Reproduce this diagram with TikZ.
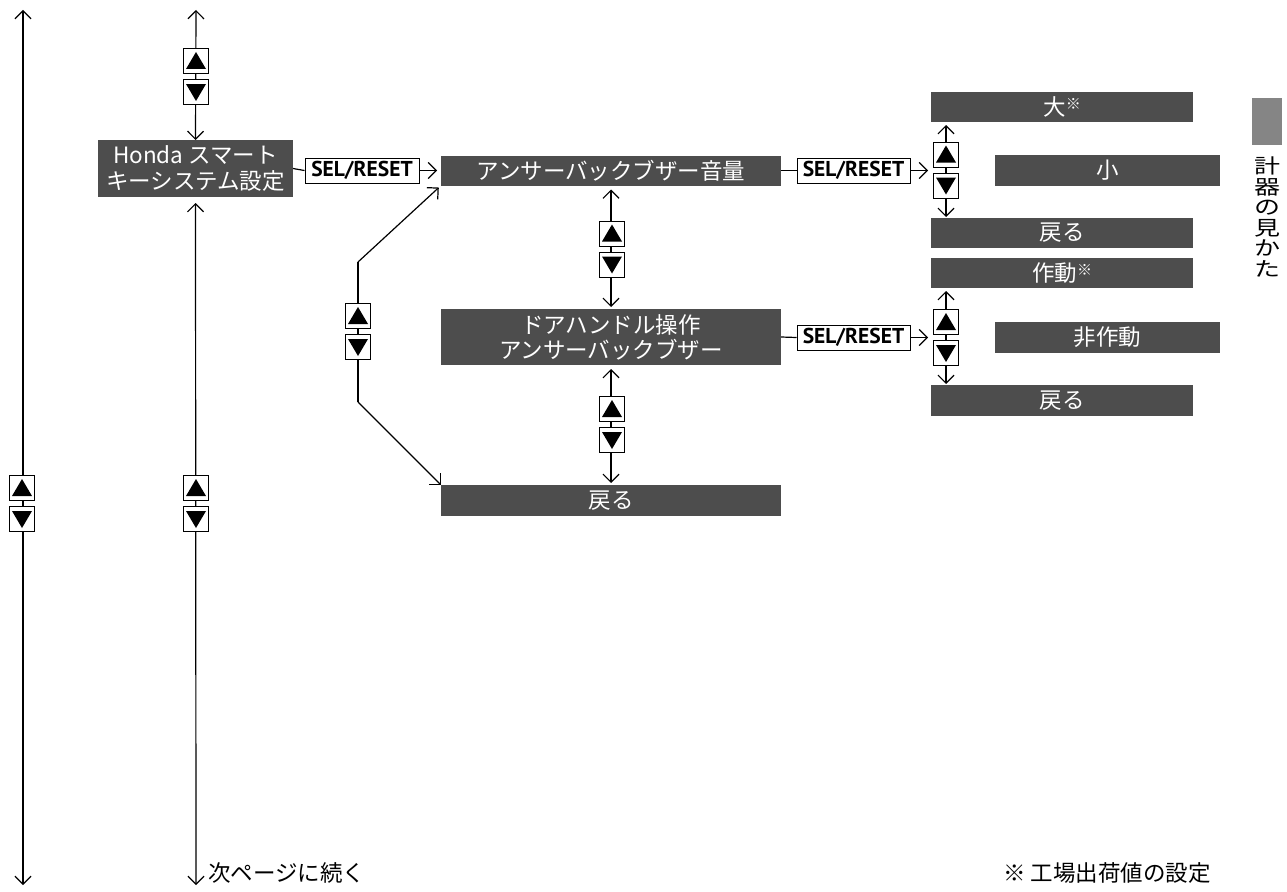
\documentclass[tikz,border=0pt]{standalone}
\usepackage{fontspec}
\usepackage{tikz}
\usetikzlibrary{arrows.meta,backgrounds}
\newfontfamily\jpfont{Noto Sans CJK JP}
\newfontfamily\selfont{PT Sans}
\definecolor{boxgray}{HTML}{4D4D4D}
\definecolor{tabgray}{HTML}{858585}
\newcommand{\MenuFont}{\jpfont\fontsize{22.5pt}{25pt}\selectfont}
\newcommand{\NoteMark}{{\fontsize{15pt}{15pt}\selectfont\raisebox{6pt}{※}}}
\tikzset{
  menubox/.style={
    fill=boxgray, text=white, font=\MenuFont, align=center,
    inner sep=0pt, outer sep=0pt
  },
  selbox/.style={
    draw=black, fill=white, line width=1pt, font=\selfont\bfseries\fontsize{21.5pt}{24pt}\selectfont,
    minimum width=113pt, minimum height=25pt, inner sep=0pt
  },
  keybox/.style={
    draw=black, fill=white, line width=1pt, minimum size=25pt, inner sep=0pt
  },
  plain/.style={line width=1.2pt},
  long/.style={line width=1.8pt},
  flow/.style={line width=1.2pt, -{Straight Barb[length=8pt,width=16pt]}},
  dbl/.style={line width=1.2pt, {Straight Barb[length=8pt,width=16pt]}-{Straight Barb[length=8pt,width=16pt]}}
}
% up / down key pair: name, x, y of centre
\newcommand{\KeyPair}[3]{%
  \node[keybox] (#1u) at (#2,#3-15.5) {};
  \node[keybox] (#1d) at (#2,#3+15.5) {};
  \fill (#1u.center) ++(0,-9) -- ++(10,17) -- ++(-20,0) -- cycle;
  \fill (#1d.center) ++(0,9) -- ++(10,-17) -- ++(-20,0) -- cycle;%
}

\begin{document}
\begin{tikzpicture}[x=1pt, y=-1pt]
  \useasboundingbox (0,0) rectangle (1287,891);

  % menu boxes
  \node[menubox, minimum width=195pt, minimum height=57pt] (honda) at (195.5,168.5) {Honda スマート\\キーシステム設定};
  \node[menubox, minimum width=340pt, minimum height=30pt] (volume) at (611,170.5) {アンサーバックブザー音量};
  \node[menubox, minimum width=340pt, minimum height=56pt] (door) at (611,337) {ドアハンドル操作\\アンサーバックブザー};
  \node[menubox, minimum width=340pt, minimum height=31pt] (backA) at (611,500.5) {戻る};
  \node[menubox, minimum width=262pt, minimum height=30pt] (loud) at (1062,107) {大\NoteMark};
  \node[menubox, minimum width=225pt, minimum height=31pt] (soft) at (1107.5,170.5) {小};
  \node[menubox, minimum width=262pt, minimum height=30pt] (backB) at (1062,233) {戻る};
  \node[menubox, minimum width=262pt, minimum height=30pt] (active) at (1062,273) {作動\NoteMark};
  \node[menubox, minimum width=225pt, minimum height=31pt] (inactive) at (1107.5,337.5) {非作動};
  \node[menubox, minimum width=262pt, minimum height=31pt] (backC) at (1062,400.5) {戻る};

  % SEL/RESET keys
  \node[selbox, minimum width=114pt] (selA) at (362,170.5) {SEL/RESET};
  \node[selbox] (selB) at (853.5,170.5) {SEL/RESET};
  \node[selbox] (selC) at (853.5,337.5) {SEL/RESET};

  % up / down keys
  \KeyPair{kouter}{22}{503.5}
  \KeyPair{ktop}{196}{76.5}
  \KeyPair{kmain}{196}{503.5}
  \KeyPair{kdiag}{358}{331.5}
  \KeyPair{kvol}{612}{249}
  \KeyPair{kdoor}{612}{424.5}
  \KeyPair{kloud}{946}{170}
  \KeyPair{kact}{946}{337.5}

  \coordinate (outerTop) at (23,10);
  \coordinate (outerBot) at (23,885);
  \coordinate (mainTop) at (196,10);
  \coordinate (mainBot) at (196,885);
  \coordinate (diagTop) at (358,262);
  \coordinate (diagBot) at (358,402);

  \begin{scope}[on background layer]
    \draw[long, dbl] (outerBot) -- (outerTop);
    \draw[dbl] (mainTop) -- (honda.north);
    \draw[long, dbl, shorten <=6pt] (honda.south) -- (mainBot);
    \draw[plain] (honda.east) -- (selA.west);
    \draw[flow, shorten >=4pt] (selA.east) -- (volume.west);
    \draw[flow, shorten >=3pt] (diagTop) -- (volume.south west);
    \draw[plain] (diagTop) -- (diagBot);
    \draw[flow] (diagBot) -- (backA.north west);
    \draw[dbl, shorten <=4pt, shorten >=2pt] (volume.south) -- (door.north);
    \draw[dbl, shorten <=4pt, shorten >=2pt] (door.south) -- (backA.north);
    \draw[plain] (volume.east) -- (selB.west);
    \draw[flow, shorten >=5pt] (selB.east) -- (selB.east -| kloudu.west);
    \draw[plain] (door.east) -- (selC.west);
    \draw[flow, shorten >=5pt] (selC.east) -- (selC.east -| kactu.west);
    \draw[dbl, shorten <=3pt, shorten >=1pt] (kloudu |- loud.south) -- (kloudu |- backB.north);
    \draw[dbl, shorten <=3pt, shorten >=1pt] (kactu |- active.south) -- (kactu |- backC.north);
  \end{scope}

  % notes
  \node[font=\MenuFont, anchor=west, inner sep=0pt] (nextpage) at (208,873) {次ページに続く};
  \node[font=\MenuFont, anchor=west, inner sep=0pt] (footnote) at (1003,873) {※ 工場出荷値の設定};

  % side tab
  \fill[tabgray] (1252,98) rectangle (1282,145);
  \node[font=\jpfont\fontsize{20pt}{20.5pt}\selectfont, align=center, inner sep=0pt,
        anchor=north, xscale=1.3, transform shape] (tabtext) at (1267,157) {計\\器\\の\\見\\か\\た};
\end{tikzpicture}
\end{document}
